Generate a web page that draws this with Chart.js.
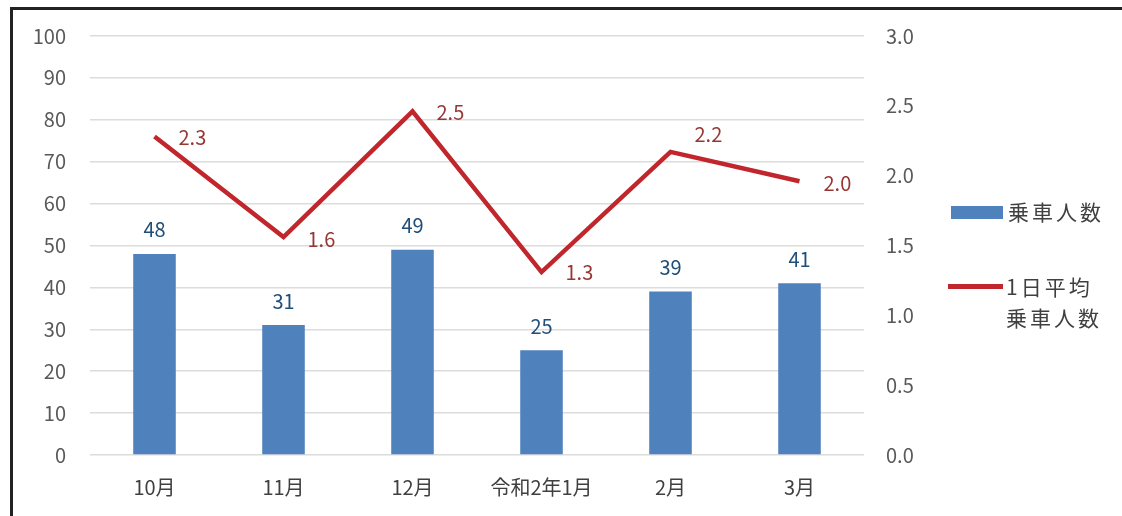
<!DOCTYPE html>
<html lang="ja">
<head>
<meta charset="utf-8">
<title>乗車人数</title>
<script src="https://cdn.jsdelivr.net/npm/chart.js@4.4.1/dist/chart.umd.min.js"></script>
<style>
  html, body { margin: 0; padding: 0; background: #fff; }
  #wrap { position: relative; width: 1122px; height: 516px; overflow: hidden; }
  #frame { position: absolute; left: 10px; top: 7px; width: 1200px; height: 600px;
           border-left: 3px solid #222; border-top: 3px solid #222; }
  canvas { position: absolute; left: 0; top: 0; }
  .lg { position: absolute; font-family: "Noto Sans CJK JP", sans-serif; font-size: 21px;
        color: #404040; letter-spacing: 3px; line-height: 31px; }
  .sw { position: absolute; }
</style>
</head>
<body>
<div id="wrap">
  <div id="frame"></div>
  <canvas id="c" width="1122" height="516"></canvas>
  <div class="sw" style="left:951px;top:206px;width:52px;height:13px;background:#4f81bd"></div>
  <div class="lg" style="left:1008px;top:196px">乗車人数</div>
  <div class="sw" style="left:948px;top:284px;width:55px;height:5px;background:#c0262c"></div>
  <div class="lg" style="left:1006px;top:271px">1日平均<br>乗車人数</div>
</div>
<script>
// 月別
var months = ["10月", "11月", "12月", "令和2年1月", "2月", "3月"];
// 乗車人数（左軸）
var riders = [48, 31, 49, 25, 39, 41];
// 1日平均乗車人数（右軸）
var dailyAvg = [2.28, 1.56, 2.46, 1.31, 2.17, 1.96];
var leftTicks = [0, 10, 20, 30, 40, 50, 60, 70, 80, 90, 100];
var rightTicks = [0, 0.5, 1.0, 1.5, 2.0, 2.5, 3.0];

var FONT = '"Noto Sans CJK JP", sans-serif';

// value labels, drawn next to each mark
var valueLabels = {
  id: "valueLabels",
  afterDatasetsDraw: function(chart) {
    var ctx = chart.ctx;
    ctx.save();
    ctx.font = "20px " + FONT;
    ctx.textBaseline = "middle";
    // bars
    var bars = chart.getDatasetMeta(1).data;
    ctx.fillStyle = "#1f4e79";
    ctx.textAlign = "center";
    bars.forEach(function(el, i) {
      ctx.fillText(String(riders[i]), el.x, el.y - 24);
    });
    // line
    var pts = chart.getDatasetMeta(0).data;
    var dy = [1, 2, 1, 0, -18, 2];
    ctx.fillStyle = "#953735";
    ctx.textAlign = "left";
    pts.forEach(function(el, i) {
      ctx.fillText(dailyAvg[i].toFixed(1), el.x + 24, el.y + dy[i]);
    });
    ctx.restore();
  }
};

new Chart(document.getElementById("c"), {
  data: {
    labels: months,
    datasets: [
      {
        type: "line",
        label: "1日平均乗車人数",
        data: dailyAvg,
        yAxisID: "y1",
        borderColor: "#c0262c",
        borderWidth: 4.5,
        pointRadius: 0,
        tension: 0,
        order: 0
      },
      {
        type: "bar",
        label: "乗車人数",
        data: riders,
        yAxisID: "y",
        backgroundColor: "#4f81bd",
        barPercentage: 0.33,
        categoryPercentage: 1,
        order: 1
      }
    ]
  },
  options: {
    responsive: false,
    animation: false,
    layout: { padding: { top: 32, left: 0, right: 0, bottom: 0 } },
    plugins: { legend: { display: false }, tooltip: { enabled: false } },
    scales: {
      x: {
        grid: { display: false, drawTicks: false },
        border: { display: false },
        ticks: { color: "#404040", font: { family: FONT, size: 20 }, padding: 20, maxRotation: 0 },
        afterFit: function(s) { s.height = 61; }
      },
      y: {
        position: "left",
        min: 0, max: 100,
        afterBuildTicks: function(s) { s.ticks = leftTicks.map(function(v) { return { value: v }; }); },
        grid: { color: "#dcdcdc", lineWidth: 1.5, drawTicks: false },
        border: { display: false },
        ticks: { color: "#595959", font: { family: FONT, size: 20 }, padding: 24 },
        afterFit: function(s) { s.width = 90; }
      },
      y1: {
        position: "right",
        min: 0, max: 3,
        afterBuildTicks: function(s) { s.ticks = rightTicks.map(function(v) { return { value: v }; }); },
        grid: { display: false, drawTicks: false },
        border: { display: false },
        ticks: {
          color: "#595959", font: { family: FONT, size: 20 }, padding: 22,
          callback: function(v) { return Number(v).toFixed(1); }
        },
        afterFit: function(s) { s.width = 258; }
      }
    }
  },
  plugins: [valueLabels]
});
</script>
</body>
</html>
